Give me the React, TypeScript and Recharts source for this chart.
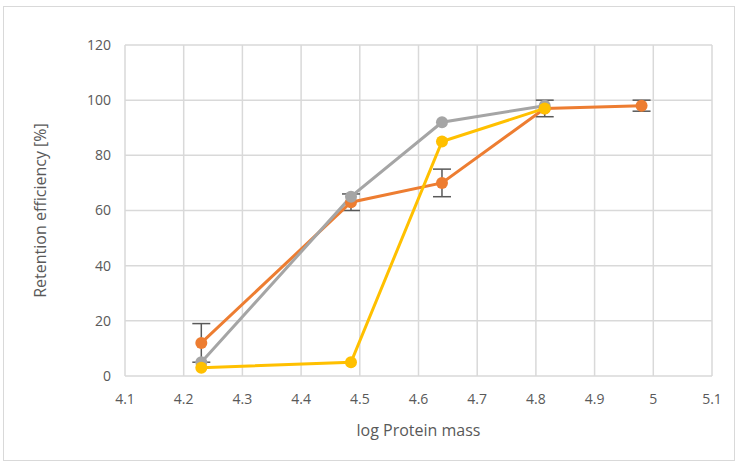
import React from 'react';
import { LineChart, Line, XAxis, YAxis, CartesianGrid, ErrorBar } from 'recharts';

const xTicks = [4.1, 4.2, 4.3, 4.4, 4.5, 4.6, 4.7, 4.8, 4.9, 5, 5.1];
const yTicks = [0, 20, 40, 60, 80, 100, 120];

const orangeX = [4.23, 4.485, 4.64, 4.815, 4.98];
const orangeY = [12, 63, 70, 97, 98];
const orangeErr = [7, 3, 5, 3, 2];

const grayX = [4.23, 4.485, 4.64, 4.815];
const grayY = [5, 65, 92, 98];

const yellowX = [4.23, 4.485, 4.64, 4.815];
const yellowY = [3, 5, 85, 97];

const orangeData = orangeX.map((x, i) => ({ x, y: orangeY[i], err: orangeErr[i] }));
const grayData = grayX.map((x, i) => ({ x, y: grayY[i] }));
const yellowData = yellowX.map((x, i) => ({ x, y: yellowY[i] }));

const font = '"Open Sans", sans-serif';
const tickStyle = { fill: '#595959', fontSize: 14, fontFamily: font };

const App: React.FC = () => {
    return (
        <div style={{ position: 'absolute', left: 0, top: 0, width: 738, height: 466, background: '#fff' }}>
            <div style={{ position: 'absolute', left: 3, top: 6, width: 730, height: 453, border: '1px solid #d9d9d9' }} />
            <LineChart width={738} height={466} margin={{ top: 45, right: 26, bottom: 30, left: 25 }}>
                <CartesianGrid stroke="#d9d9d9" strokeWidth={1.5} />
                <XAxis
                    type="number"
                    dataKey="x"
                    domain={[4.1, 5.1]}
                    ticks={xTicks}
                    allowDataOverflow
                    axisLine={false}
                    tickLine={false}
                    tickSize={0}
                    tickMargin={18}
                    height={60}
                    tick={tickStyle}
                    tickFormatter={(v: number) => String(Number(v.toFixed(1)))}
                    label={{ value: 'log Protein mass', position: 'insideBottom', offset: 0, style: { fill: '#595959', fontSize: 16, fontFamily: font } }}
                />
                <YAxis
                    type="number"
                    domain={[0, 120]}
                    ticks={yTicks}
                    axisLine={false}
                    tickLine={false}
                    tickSize={0}
                    tickMargin={14}
                    width={100}
                    tick={tickStyle}
                    label={{ value: 'Retention efficiency [%]', angle: -90, position: 'insideLeft', offset: 15, style: { fill: '#595959', fontSize: 16, fontFamily: font, textAnchor: 'middle' } }}
                />
                {/* error bars sit under the markers */}
                <Line data={orangeData} dataKey="y" stroke="none" dot={false} activeDot={false} legendType="none" isAnimationActive={false}>
                    <ErrorBar dataKey="err" direction="y" width={9} stroke="#595959" strokeWidth={1.5} />
                </Line>
                <Line data={orangeData} dataKey="y" stroke="#ED7D31" strokeWidth={3} dot={{ r: 6, fill: '#ED7D31', stroke: '#ED7D31', strokeWidth: 0 }} isAnimationActive={false} />
                <Line data={grayData} dataKey="y" stroke="#A5A5A5" strokeWidth={3} dot={{ r: 6, fill: '#A5A5A5', stroke: '#A5A5A5', strokeWidth: 0 }} isAnimationActive={false} />
                <Line data={yellowData} dataKey="y" stroke="#FFC000" strokeWidth={3} dot={{ r: 6, fill: '#FFC000', stroke: '#FFC000', strokeWidth: 0 }} isAnimationActive={false} />
            </LineChart>
        </div>
    );
};

export default App;
